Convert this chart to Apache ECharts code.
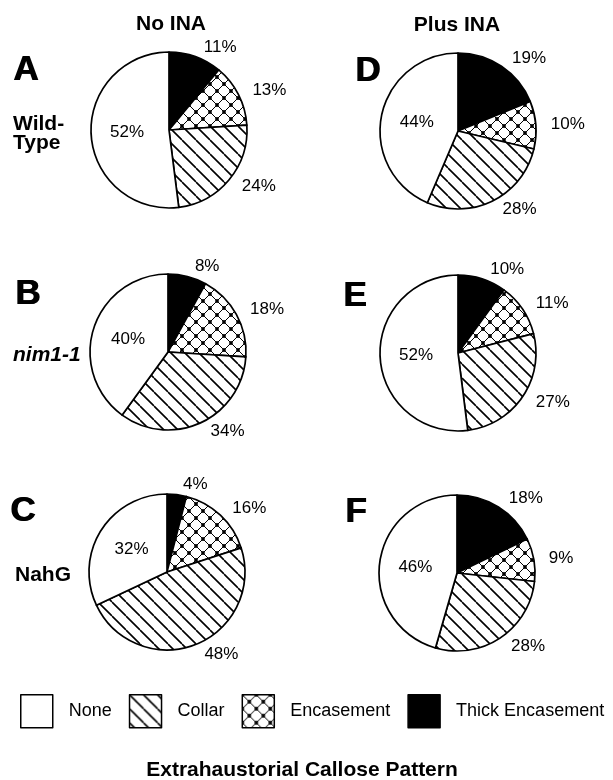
<!DOCTYPE html>
<html><head><meta charset="utf-8">
<script src="https://cdn.jsdelivr.net/npm/echarts@6/dist/echarts.min.js"></script>
<style>html,body{margin:0;padding:0;background:#fff}#c{width:613px;height:780px}</style>
</head><body><div id="c"></div>
<script>
// ---- data ----
const categories = ['Thick Encasement', 'Encasement', 'Collar', 'None'];
const legendOrder = ['None', 'Collar', 'Encasement', 'Thick Encasement'];
const panelA = [11, 13, 24, 52]; // Wild-Type, No INA
const panelB = [8, 18, 34, 40];  // nim1-1, No INA
const panelC = [4, 16, 48, 32];  // NahG, No INA
const panelD = [19, 10, 28, 44]; // Wild-Type, Plus INA
const panelE = [10, 11, 27, 52]; // nim1-1, Plus INA
const panelF = [18, 9, 28, 46];  // NahG, Plus INA
const columnTitles = ['No INA', 'Plus INA'];
const rowLabelsWild = ['Wild-', 'Type'];
const rowLabelNim = 'nim1-1';
const rowLabelNahG = 'NahG';
const panelLetters = ['A', 'B', 'C', 'D', 'E', 'F'];
const axisTitle = 'Extrahaustorial Callose Pattern';

// ---- layout ----
const panels = [panelA, panelB, panelC, panelD, panelE, panelF];
const centers = [[169, 130], [168, 352], [167, 572], [458, 131], [458, 353], [457, 573]];
const R = 78;
const letterPos = [[13, 70], [15, 294], [10, 511], [355, 71], [343, 296], [345, 512]];
const FONT = '"Liberation Sans", Arial, Helvetica, sans-serif';

function makeTile(kind) {
  const T = 14;
  const c = document.createElement('canvas');
  c.width = T; c.height = T;
  const g = c.getContext('2d');
  g.fillStyle = '#fff'; g.fillRect(0, 0, T, T);
  g.strokeStyle = '#000';
  g.lineWidth = kind === 'cross' ? 1.0 : 1.6;
  g.beginPath();
  for (const k of [-T, 0, T]) { g.moveTo(k, 0); g.lineTo(k + T, T); }
  if (kind === 'cross') for (const k of [-T, 0, T]) { g.moveTo(k + T, 0); g.lineTo(k, T); }
  g.stroke();
  if (kind === 'cross') {
    g.fillStyle = '#000';
    for (const [x, y] of [[0, 0], [T, 0], [0, T], [T, T], [T / 2, T / 2]]) {
      g.beginPath(); g.arc(x, y, 1.9, 0, Math.PI * 2); g.fill();
    }
  }
  return c;
}
const fills = {
  'Thick Encasement': '#000',
  'Encasement': { image: makeTile('cross'), repeat: 'repeat' },
  'Collar': { image: makeTile('diag'), repeat: 'repeat' },
  'None': '#fff'
};

const series = panels.map((vals, i) => ({
  type: 'pie',
  center: centers[i],
  radius: R,
  startAngle: 90,
  clockwise: true,
  avoidLabelOverlap: false,
  silent: true,
  animation: false,
  emphasis: { disabled: true },
  itemStyle: { borderColor: '#000', borderWidth: 1.7 },
  label: { show: true, position: 'outside', formatter: '{c}%', color: '#000', fontSize: 17, fontFamily: FONT },
  labelLine: { show: false, length: 10, length2: 0 },
  data: categories.map((name, j) => {
    const d = { name: name, value: vals[j], itemStyle: { color: fills[name] } };
    if (name === 'None') d.label = { position: 'inside' };
    return d;
  })
}));

function txt(text, x, y, font, align) {
  return {
    type: 'text', x: x, y: y, silent: true,
    style: { text: text, font: font, fill: '#000', align: align, verticalAlign: 'middle' }
  };
}

const graphic = [];
panelLetters.forEach((L, i) => {
  // drawn twice with a sub-pixel shift to mimic the heavy display face
  graphic.push(txt(L, letterPos[i][0], letterPos[i][1], 'bold 35px ' + FONT, 'left'));
  graphic.push(txt(L, letterPos[i][0] + 1, letterPos[i][1], 'bold 35px ' + FONT, 'left'));
});
graphic.push(txt(columnTitles[0], 171, 24, 'bold 21px ' + FONT, 'center'));
graphic.push(txt(columnTitles[1], 457, 25, 'bold 21px ' + FONT, 'center'));
graphic.push(txt(rowLabelsWild[0], 13, 124, 'bold 21px ' + FONT, 'left'));
graphic.push(txt(rowLabelsWild[1], 13, 143, 'bold 21px ' + FONT, 'left'));
graphic.push(txt(rowLabelNim, 13, 355, 'italic bold 21px ' + FONT, 'left'));
graphic.push(txt(rowLabelNahG, 15, 575, 'bold 21px ' + FONT, 'left'));
graphic.push(txt(axisTitle, 302, 770, 'bold 21px ' + FONT, 'center'));

const chart = echarts.init(document.getElementById('c'), null, { renderer: 'canvas' });
chart.setOption({
  backgroundColor: '#fff',
  animation: false,
  legend: {
    data: legendOrder,
    left: 20, top: 694, padding: 0,
    itemWidth: 32, itemHeight: 33, itemGap: 17,
    icon: 'rect', selectedMode: false,
    itemStyle: { borderColor: '#000', borderWidth: 1.5 },
    textStyle: { fontSize: 18, color: '#000', fontFamily: FONT, padding: [0, 0, 0, 11] }
  },
  series: series,
  graphic: graphic
});
</script>
</body></html>
